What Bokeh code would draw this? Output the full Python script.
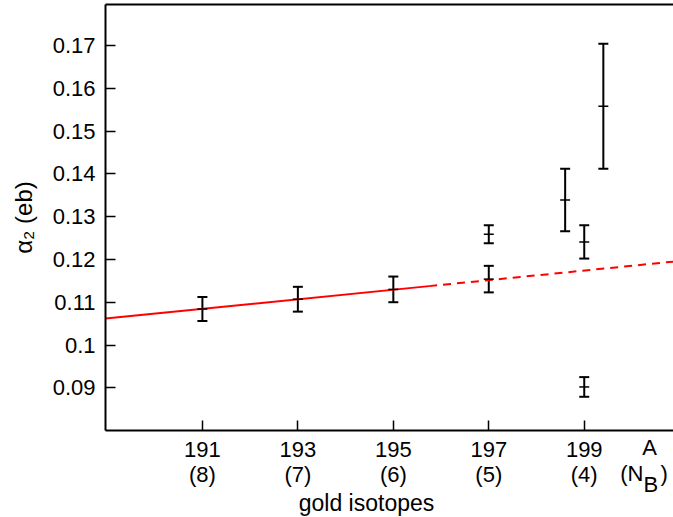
import math
from bokeh.plotting import figure
from bokeh.models import (FixedTicker, LinearAxis, Range1d, Whisker, ColumnDataSource,
                          Label, TeeHead)
from bokeh.embed import file_html
from bokeh.resources import INLINE

# ---- data ----
isotope_A = [191, 193, 195, 197, 197, 198.6, 199, 199, 199.4]
alpha2 = [0.1084, 0.1107, 0.1130, 0.1154, 0.1259, 0.1339, 0.1241, 0.0902, 0.1558]
alpha2_err = [0.0028, 0.0029, 0.0030, 0.0031, 0.0021, 0.0073, 0.0039, 0.0023, 0.0146]

x_ticks = [191, 193, 195, 197, 199]
x_tick_labels = ["191\n(8)", "193\n(7)", "195\n(6)", "197\n(5)", "199\n(4)"]
y_ticks = [0.09, 0.10, 0.11, 0.12, 0.13, 0.14, 0.15, 0.16, 0.17]
y_tick_labels = ["0.09", "0.1", "0.11", "0.12", "0.13", "0.14", "0.15", "0.16", "0.17"]

fit_solid_x = [188.97, 195.75]
fit_solid_y = [0.10617, 0.11376]
fit_dash_x = [195.75, 200.87]
fit_dash_y = [0.11376, 0.11949]

# axis box of the chart (data coordinates)
X0, X1 = 188.97, 200.87
Y0, Y1 = 0.08, 0.17958

FONT = "Liberation Sans"
FS = "22px"
INK = "black"

p = figure(width=673, height=517,
           x_range=Range1d(186.77, 200.87), y_range=Range1d(0.05969, 0.18051),
           output_backend="svg", toolbar_location=None,
           min_border_left=0, min_border_right=0, min_border_top=0, min_border_bottom=0)
p.grid.visible = False
p.outline_line_color = None
p.background_fill_color = "white"
p.border_fill_color = "white"

# left axis
ya = p.yaxis[0]
ya.fixed_location = X0
ya.bounds = (Y0, Y1)
ya.ticker = FixedTicker(ticks=y_ticks)
ya.major_label_overrides = {t: l for t, l in zip(y_ticks, y_tick_labels)}
ya.major_tick_in = 10
ya.major_tick_out = 0
ya.minor_tick_line_color = None
ya.axis_line_width = 2
ya.axis_line_color = INK
ya.major_tick_line_color = INK
ya.major_tick_line_width = 1.5
ya.major_label_text_font = FONT
ya.major_label_text_font_size = FS
ya.major_label_text_color = INK
ya.major_label_standoff = 10

# bottom axis
xa = p.xaxis[0]
xa.fixed_location = Y0
xa.bounds = (X0, X1)
xa.ticker = FixedTicker(ticks=x_ticks)
xa.major_label_overrides = {t: l for t, l in zip(x_ticks, x_tick_labels)}
xa.major_tick_in = 10
xa.major_tick_out = 0
xa.minor_tick_line_color = None
xa.axis_line_width = 2
xa.axis_line_color = INK
xa.major_tick_line_color = INK
xa.major_tick_line_width = 1.5
xa.major_label_text_font = FONT
xa.major_label_text_font_size = FS
xa.major_label_text_color = INK
xa.major_label_text_line_height = 1.03
xa.major_label_standoff = 6

# top border line
top = LinearAxis(fixed_location=Y1, bounds=(X0, X1), ticker=FixedTicker(ticks=[]),
                 axis_line_width=2, axis_line_color=INK,
                 major_tick_in=0, major_tick_out=0, minor_tick_line_color=None,
                 major_label_text_font_size="0px", major_label_standoff=0)
p.add_layout(top, "above")

# fit line
p.line(fit_solid_x, fit_solid_y, line_color="red", line_width=2)
p.line(fit_dash_x, fit_dash_y, line_color="red", line_width=2, line_dash="8 6")

# error bars
upper = [v + e for v, e in zip(alpha2, alpha2_err)]
lower = [v - e for v, e in zip(alpha2, alpha2_err)]
src = ColumnDataSource(dict(x=isotope_A, y=alpha2, upper=upper, lower=lower))
wh = Whisker(base="x", upper="upper", lower="lower", source=src,
             line_color=INK, line_width=2,
             upper_head=TeeHead(size=10, line_width=2, line_color=INK),
             lower_head=TeeHead(size=10, line_width=2, line_color=INK))
p.add_layout(wh)
p.scatter("x", "y", source=src, marker="dash", size=10, line_color=INK, line_width=1.5)

# titles and the "A (N_B)" marker
def txt(text, x, y, align="left", baseline="top", angle=0.0, size=FS):
    p.add_layout(Label(x=x, y=y, x_units="canvas", y_units="canvas", text=text,
                       text_align=align, text_baseline=baseline, angle=angle,
                       text_color=INK, text_font=FONT, text_font_size=size))

txt("gold isotopes", 366, 489, align="center", size="23px")
txt("α₂ (eb)", 36, 217, align="center", baseline="bottom", angle=math.pi / 2, size="24px")
txt("A", 649, 434, align="center")
txt("(N", 643, 460, align="right")
txt("B", 643, 471, align="left")
txt(")", 660, 460, align="left")

open("out.html", "w").write(file_html(p, INLINE))
